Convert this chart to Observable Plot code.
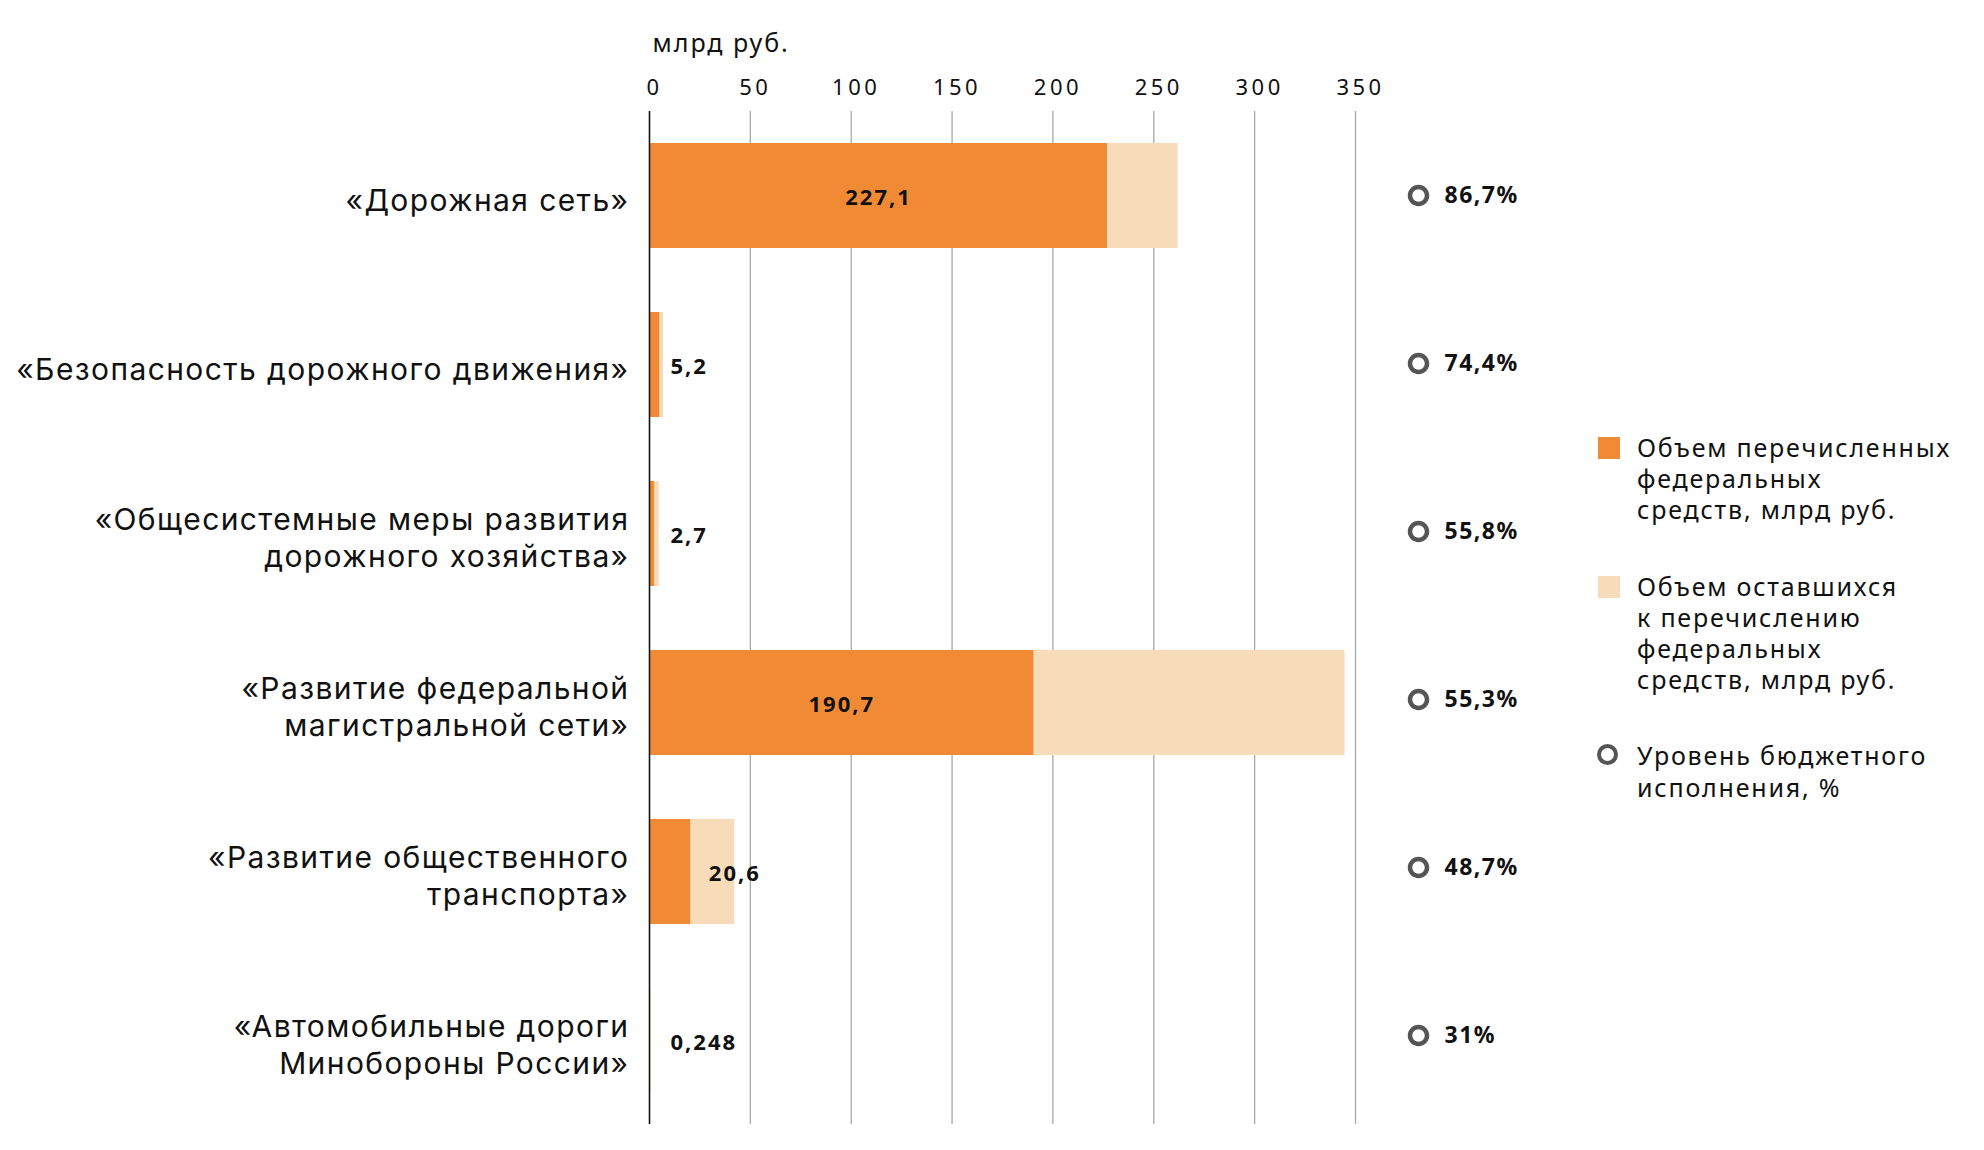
<!DOCTYPE html>
<html><head><meta charset="utf-8">
<script src="https://cdn.jsdelivr.net/npm/d3@7"></script>
<script src="https://cdn.jsdelivr.net/npm/@observablehq/plot@0.6"></script>
<style>
body{margin:0;background:#fff;font-family:"Noto Sans",sans-serif;color:#111;}
#wrap{position:relative;width:1984px;height:1150px;overflow:hidden;}
#chart,#pct{position:absolute;top:0;}
#chart{left:0;}
#pct{left:1400px;}
#chart g[aria-label="y-axis tick label"] text{letter-spacing:1.4px;font-family:Inter,"Noto Sans",sans-serif;}
#chart g[aria-label="x-axis tick label"] text{letter-spacing:3.5px;}
#chart g[aria-label="text"] text{letter-spacing:2px;}
#pct g[aria-label="text"] text{letter-spacing:1.5px;}
#legend{position:absolute;left:1598px;top:432px;width:386px;}
.item{position:relative;padding-left:39px;font-size:25px;line-height:31.2px;letter-spacing:1.8px;color:#111;margin-bottom:45px;white-space:nowrap;}
.sw{position:absolute;left:0;top:5px;width:22px;height:22px;}
.ring{position:absolute;left:-1px;top:4px;width:13px;height:13px;border:4.5px solid #555;border-radius:50%;}
</style></head><body>
<div id="wrap"><div id="chart"></div><div id="pct"></div><div id="legend"></div></div>
<script>
const categories = [
  "«Дорожная сеть»",
  "«Безопасность дорожного движения»",
  "«Общесистемные меры развития\nдорожного хозяйства»",
  "«Развитие федеральной\nмагистральной сети»",
  "«Развитие общественного\nтранспорта»",
  "«Автомобильные дороги\nМинобороны России»"
];
const transferred = [227.1, 5.2, 2.7, 190.7, 20.6, 0.248];
const remaining = [35.0, 1.8, 2.1, 154.1, 21.7, 0.55];
const valueLabels = ["227,1", "5,2", "2,7", "190,7", "20,6", "0,248"];
const execution = [86.7, 74.4, 55.8, 55.3, 48.7, 31];
const executionLabels = ["86,7%", "74,4%", "55,8%", "55,3%", "48,7%", "31%"];
const xTicks = [0, 50, 100, 150, 200, 250, 300, 350];
const axisTitle = "млрд руб.";
const legendLabels = [
  "Объем перечисленных<br>федеральных<br>средств, млрд руб.",
  "Объем оставшихся<br>к перечислению<br>федеральных<br>средств, млрд руб.",
  "Уровень бюджетного<br>исполнения, %"
];
const colors = {transferred: "#f08a35", remaining: "#f8dbb9", ring: "#555555", grid: "#a8a8a8"};

const rows = categories.map((c, i) => ({
  cat: c,
  transferred: transferred[i],
  total: transferred[i] + remaining[i],
  label: valueLabels[i],
  pct: execution[i],
  pctLabel: executionLabels[i]
}));

const yScale = {domain: categories, paddingInner: 0.38, paddingOuter: 0.174};
const big = rows.filter(d => d.transferred >= 100);
const mid = rows.filter(d => d.transferred >= 10 && d.transferred < 100);
const small = rows.filter(d => d.transferred < 10);
const valueStyle = {fontSize: 22, fontWeight: "bold", fill: "#111", dy: 2};

const chart = Plot.plot({
  width: 1984,
  height: 1150,
  marginLeft: 649,
  marginRight: 629,
  marginTop: 111,
  marginBottom: 26,
  style: {fontFamily: "'Noto Sans', sans-serif", color: "#111", background: "transparent"},
  x: {domain: [0, 350]},
  y: yScale,
  marks: [
    Plot.gridX(xTicks, {stroke: colors.grid, strokeOpacity: 1, strokeWidth: 1.3}),
    Plot.barX(rows, {y: "cat", x1: 0, x2: "transferred", fill: colors.transferred, insetTop: 0, insetBottom: 0}),
    Plot.barX(rows, {y: "cat", x1: "transferred", x2: "total", fill: colors.remaining, insetTop: 0, insetBottom: 0}),
    Plot.ruleX([0], {stroke: "#111", strokeWidth: 1.5}),
    Plot.axisX(xTicks, {anchor: "top", tickSize: 0, tickPadding: 17, fontSize: 22, dx: 5, tickFormat: d => String(d), label: null}),
    Plot.text([axisTitle], {frameAnchor: "top-left", dx: 3, dy: -77, textAnchor: "start", fontSize: 25, fill: "#111"}),
    Plot.axisY({anchor: "left", tickSize: 0, tickPadding: 20, fontSize: 30, lineHeight: 1.22, dy: 3, label: null}),
    Plot.text(big, {y: "cat", x: d => d.transferred / 2, text: "label", ...valueStyle}),
    Plot.text(mid, {y: "cat", x: "total", text: "label", ...valueStyle}),
    Plot.text(small, {y: "cat", x: 0, dx: 21, textAnchor: "start", text: "label", ...valueStyle})
  ]
});
document.getElementById("chart").appendChild(chart);

const pct = Plot.plot({
  width: 200,
  height: 1150,
  marginLeft: 0,
  marginRight: 0,
  marginTop: 111,
  marginBottom: 26,
  style: {fontFamily: "'Noto Sans', sans-serif", color: "#111", background: "transparent"},
  y: {...yScale, axis: null},
  marks: [
    Plot.dot(rows, {y: "cat", frameAnchor: "left", dx: 18, dy: -3, r: 8.5, stroke: colors.ring, strokeWidth: 4.5, fill: "none"}),
    Plot.text(rows, {y: "cat", frameAnchor: "left", dx: 44, dy: -3, textAnchor: "start", text: "pctLabel", fontSize: 23, fontWeight: "bold", fill: "#111"})
  ]
});
document.getElementById("pct").appendChild(pct);

const legend = document.getElementById("legend");
legendLabels.forEach((t, i) => {
  const div = document.createElement("div");
  div.className = "item";
  const mark = document.createElement("span");
  if (i < 2) {
    mark.className = "sw";
    mark.style.background = i === 0 ? colors.transferred : colors.remaining;
  } else {
    mark.className = "ring";
  }
  div.appendChild(mark);
  const span = document.createElement("span");
  span.innerHTML = t;
  div.appendChild(span);
  legend.appendChild(div);
});
</script>
</body></html>
